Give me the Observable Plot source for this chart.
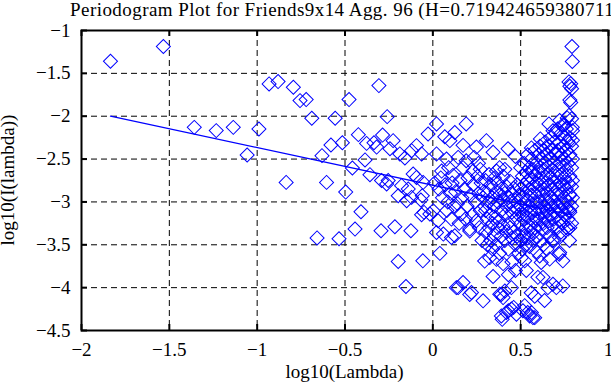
<!DOCTYPE html>
<html><head><meta charset="utf-8">
<script src="https://cdn.jsdelivr.net/npm/d3@7"></script>
<script src="https://cdn.jsdelivr.net/npm/@observablehq/plot@0.6"></script>
<style>
html,body{margin:0;padding:0;background:#fff;overflow:hidden}
#chart{width:611px;height:385px;position:relative;overflow:hidden}
</style></head><body><div id="chart"></div>
<script>
const titleText = "Periodogram Plot for Friends9x14 Agg. 96 (H=0.719424659380711)";
const xLabel = "log10(Lambda)";
const yLabel = "log10(I(lambda))";
const xTicks = [-2, -1.5, -1, -0.5, 0, 0.5, 1];
const yTicks = [-4.5, -4, -3.5, -3, -2.5, -2, -1.5, -1];
// regression line (slope = 1 - 2H)
const fitLine = [[-1.835, -2.0], [0.79, -3.152]];
// periodogram points [log10(lambda), log10(I(lambda))]
const lowFreq = [
  [-1.835,-1.359],[-1.534,-1.187],[-1.358,-2.13],[-1.233,-2.168],[-1.136,-2.13],[-1.057,-2.452],
  [-0.990,-2.149],[-0.932,-1.623],[-0.881,-1.596],[-0.835,-2.772],[-0.794,-1.662],[-0.756,-1.818],
  [-0.721,-1.806],[-0.689,-2.024],[-0.659,-3.42],[-0.631,-2.46],[-0.605,-2.772],[-0.580,-2.336],
  [-0.556,-2.024],[-0.534,-3.43]
];
const midFreq = [
  [-0.515,-2.31],[-0.496,-2.885],[-0.477,-1.806],[-0.458,-2.604],[-0.443,-3.317],[-0.424,-2.215],
  [-0.409,-3.114],[-0.386,-2.51],[-0.377,-2.317],[-0.358,-2.682],[-0.335,-2.31],[-0.32,-2.36],
  [-0.307,-1.643],[-0.295,-3.336],[-0.292,-2.75],[-0.286,-2.22],[-0.263,-2.79],[-0.260,-2.005],
  [-0.254,-2.75],[-0.244,-2.38],[-0.226,-2.285],[-0.216,-3.29],[-0.197,-2.928],[-0.197,-3.695],
  [-0.188,-2.44],[-0.178,-2.81],[-0.159,-2.487],[-0.153,-3.987],[-0.149,-2.986],[-0.14,-2.85],
  [-0.125,-3.336],[-0.121,-2.402],[-0.121,-2.947],[-0.112,-2.674],[-0.093,-2.343],[-0.093,-2.714],
  [-0.068,-2.978],[-0.064,-2.44],[-0.064,-3.15],[-0.060,-2.928],[-0.057,-3.687],[-0.055,-2.772],
  [-0.050,-3.122],[-0.027,-2.207],[-0.017,-3.141],[0.002,-3.103]
];
const highFreq1 = [
  [0.021,-2.09],[0.068,-2.24],[0.125,-2.19],[0.097,-2.285],[0.19,-2.09],[0.172,-2.34],[0.248,-2.36],
  [0.021,-2.44],[0.078,-2.5],[0.144,-2.48],[0.19,-2.52],[0.05,-2.64],[0.115,-2.69],[0.172,-2.6],
  [0.229,-2.64],[0.03,-3.22],[0.06,-3.375],[0.106,-3.415],[0.21,-3.34],[0.021,-3.356],[0.125,-3.395],
  [0.04,-3.6],[0.134,-4.0],[0.172,-3.94],[0.22,-4.057],[0.286,-4.154],[0.144,-4.0],[0.21,-4.08],
  [0.106,-3.2],[0.163,-3.14],[0.21,-3.317],[0.248,-3.22],[0.295,-3.69],[0.305,-2.285],[0.286,-2.95],
  [0.01,-2.78],[0.035,-2.85],[0.055,-2.95],[0.07,-2.8],[0.085,-3.0],[0.1,-2.9],[0.11,-2.78],
  [0.13,-2.88],[0.14,-3.02],[0.155,-2.75],[0.165,-2.95],[0.18,-2.85],[0.195,-3.05],[0.2,-2.72],
  [0.215,-2.92],[0.23,-2.8],[0.24,-3.0],[0.255,-2.7],[0.26,-2.9],[0.27,-3.1],[0.275,-2.78],
  [0.29,-2.88],[0.295,-3.05],[0.08,-3.1],[0.12,-3.05],[0.15,-3.25],[0.185,-3.2],[0.225,-3.15],
  [0.265,-3.3],[0.28,-3.45],[0.09,-2.6],[0.045,-2.72],[0.26,-2.55],[0.235,-2.48],[0.27,-2.62]
];
const highFreq2 = [
  [0.343,-2.42],[0.428,-2.38],[0.38,-2.6],[0.41,-2.62],[0.362,-2.64],[0.324,-3.65],[0.362,-3.67],
  [0.343,-3.87],[0.381,-4.076],[0.4,-4.116],[0.39,-4.08],[0.41,-4.04],[0.447,-4.0],[0.39,-4.33],
  [0.419,-4.29],[0.447,-4.25],[0.476,-4.31],[0.395,-4.37],[0.43,-4.27],[0.46,-4.23],[0.47,-2.47],
  [0.30,-2.75],[0.30,-3.1],[0.30,-3.35],[0.31,-2.9],[0.31,-3.2],[0.31,-3.5],[0.32,-2.68],[0.32,-3.0],
  [0.32,-3.3],[0.33,-2.8],[0.33,-3.15],[0.33,-3.45],[0.34,-2.95],[0.34,-3.25],[0.34,-3.55],
  [0.35,-2.72],[0.35,-3.05],[0.35,-3.38],[0.36,-2.88],[0.36,-3.18],[0.36,-3.5],[0.37,-2.78],
  [0.37,-3.0],[0.37,-3.3],[0.38,-2.92],[0.38,-3.22],[0.38,-3.6],[0.39,-2.85],[0.39,-3.1],[0.39,-3.4],
  [0.40,-2.7],[0.40,-2.98],[0.40,-3.28],[0.40,-3.72],[0.41,-2.9],[0.41,-3.15],[0.41,-3.45],
  [0.42,-2.82],[0.42,-3.05],[0.42,-3.35],[0.43,-2.95],[0.43,-3.25],[0.43,-3.55],[0.43,-3.85],
  [0.44,-2.76],[0.44,-3.0],[0.44,-3.3],[0.45,-2.9],[0.45,-3.12],[0.45,-3.42],[0.45,-3.7],
  [0.46,-2.84],[0.46,-3.05],[0.46,-3.35],[0.47,-2.98],[0.47,-3.2],[0.47,-3.5],[0.47,-3.8],
  [0.48,-2.8],[0.48,-3.08],[0.48,-3.4],[0.49,-2.92],[0.49,-3.15],[0.49,-3.6]
];
const highFreq3 = [
  [0.561,-2.37],[0.612,-2.265],[0.661,-2.09],[0.684,-2.17],[0.565,-2.65],[0.523,-3.687],[0.504,-3.65],
  [0.608,-3.63],[0.617,-3.707],[0.665,-3.667],[0.532,-3.80],[0.598,-3.88],[0.684,-3.96],[0.655,-4.0],
  [0.56,-4.06],[0.58,-4.1],[0.636,-4.15],[0.523,-4.21],[0.54,-4.29],[0.57,-4.35],[0.513,-4.27],
  [0.551,-4.33],[0.58,-4.35],[0.561,-4.29],[0.627,-3.88],
  [0.50,-2.6],[0.50,-2.85],[0.50,-3.05],[0.50,-3.25],[0.50,-3.45],
  [0.51,-2.7],[0.51,-2.95],[0.51,-3.15],[0.51,-3.35],[0.51,-3.55],
  [0.52,-2.55],[0.52,-2.8],[0.52,-3.0],[0.52,-3.2],[0.52,-3.4],
  [0.53,-2.65],[0.53,-2.9],[0.53,-3.1],[0.53,-3.3],[0.53,-3.5],
  [0.54,-2.45],[0.54,-2.75],[0.54,-2.98],[0.54,-3.18],[0.54,-3.42],
  [0.55,-2.6],[0.55,-2.85],[0.55,-3.05],[0.55,-3.28],[0.55,-3.52],
  [0.56,-2.5],[0.56,-2.72],[0.56,-2.92],[0.56,-3.12],[0.56,-3.35],
  [0.57,-2.62],[0.57,-2.82],[0.57,-3.02],[0.57,-3.22],[0.57,-3.45],
  [0.58,-2.4],[0.58,-2.68],[0.58,-2.9],[0.58,-3.1],[0.58,-3.3],
  [0.59,-2.55],[0.59,-2.78],[0.59,-3.0],[0.59,-3.2],[0.59,-3.4],[0.59,-3.58],
  [0.60,-2.45],[0.60,-2.65],[0.60,-2.88],[0.60,-3.08],[0.60,-3.28],
  [0.61,-2.35],[0.61,-2.6],[0.61,-2.8],[0.61,-3.0],[0.61,-3.2],[0.61,-3.45],
  [0.62,-2.5],[0.62,-2.72],[0.62,-2.92],[0.62,-3.12],[0.62,-3.32],
  [0.63,-2.4],[0.63,-2.62],[0.63,-2.85],[0.63,-3.05],[0.63,-3.25],[0.63,-3.5],
  [0.64,-2.3],[0.64,-2.55],[0.64,-2.78],[0.64,-2.98],[0.64,-3.18],
  [0.65,-2.45],[0.65,-2.68],[0.65,-2.9],[0.65,-3.1],[0.65,-3.3],[0.65,-3.55],
  [0.66,-2.35],[0.66,-2.58],[0.66,-2.8],[0.66,-3.0],[0.66,-3.22],
  [0.67,-2.25],[0.67,-2.5],[0.67,-2.72],[0.67,-2.95],[0.67,-3.15],[0.67,-3.4],
  [0.68,-2.4],[0.68,-2.62],[0.68,-2.85],[0.68,-3.05],[0.68,-3.28],
  [0.69,-2.3],[0.69,-2.55],[0.69,-2.78],[0.69,-3.0],[0.69,-3.2],[0.69,-3.45],
  [0.70,-2.2],[0.70,-2.45],[0.70,-2.7],[0.70,-2.92],[0.70,-3.12]
];
const highFreq4 = [
  [0.792,-1.187],[0.794,-1.362],[0.775,-1.6],[0.785,-1.62],[0.78,-1.65],[0.79,-1.68],[0.78,-1.81],
  [0.785,-1.84],[0.775,-1.99],[0.765,-2.02],[0.79,-2.03],[0.794,-2.13],[0.795,-2.17],[0.722,-2.05],
  [0.75,-2.1],[0.778,-2.91],[0.778,-3.10],[0.77,-3.317],[0.72,-3.415],[0.68,-3.45],[0.72,-3.61],
  [0.74,-3.687],[0.74,-3.98],[0.703,-4.0],[0.722,-3.59],[0.778,-3.45],
  [0.71,-2.15],[0.71,-2.4],[0.71,-2.62],[0.71,-2.85],[0.71,-3.05],[0.71,-3.3],
  [0.72,-2.3],[0.72,-2.55],[0.72,-2.78],[0.72,-3.0],[0.72,-3.22],
  [0.73,-2.2],[0.73,-2.45],[0.73,-2.68],[0.73,-2.9],[0.73,-3.1],[0.73,-3.35],
  [0.74,-2.1],[0.74,-2.35],[0.74,-2.58],[0.74,-2.8],[0.74,-3.02],[0.74,-3.25],
  [0.75,-2.25],[0.75,-2.5],[0.75,-2.72],[0.75,-2.95],[0.75,-3.15],
  [0.76,-2.15],[0.76,-2.4],[0.76,-2.62],[0.76,-2.85],[0.76,-3.08],[0.76,-3.3],
  [0.77,-2.3],[0.77,-2.55],[0.77,-2.78],[0.77,-3.0],[0.77,-3.2],
  [0.78,-2.25],[0.78,-2.45],[0.78,-2.7],[0.78,-2.92],[0.78,-3.12],[0.78,-3.3],
  [0.79,-2.35],[0.79,-2.6],[0.79,-2.82],[0.79,-3.05],[0.79,-3.25],
  [0.795,-2.28],[0.795,-2.5],[0.795,-2.75],[0.795,-2.95]
];
const points = [...lowFreq, ...midFreq, ...highFreq1, ...highFreq2, ...highFreq3, ...highFreq4];

const fmt = d => (d < 0 ? "\u2212" : "") + Math.abs(d);
const W = 611, H = 385, mL = 81, mR = 3, mT = 30, mB = 55;
const plotW = W - mL - mR, plotH = H - mT - mB, tick = 6;
const blue = "#0000ff";

const svg = Plot.plot({
  width: W, height: H,
  marginLeft: mL, marginRight: mR, marginTop: mT, marginBottom: mB,
  style: {fontFamily: "'Liberation Serif', 'Times New Roman', serif", fontSize: "19px", background: "white", color: "black", overflow: "visible"},
  x: {domain: [-2, 1]},
  y: {domain: [-4.5, -1]},
  marks: [
    Plot.ruleX(xTicks.slice(1, -1), {x: d => d, stroke: "black", strokeWidth: 1, strokeDasharray: "6,4"}),
    Plot.ruleY(yTicks.slice(1, -1), {y: d => d, stroke: "black", strokeWidth: 1, strokeDasharray: "6,4"}),
    Plot.dot(points, {x: d => d[0], y: d => d[1], symbol: "square", rotate: 45, r: 5.6, stroke: blue, strokeWidth: 1, fill: "none"}),
    Plot.line(fitLine, {x: d => d[0], y: d => d[1], stroke: blue, strokeWidth: 1.3}),
    Plot.ruleX(xTicks, {x: d => d, insetTop: plotH - tick, stroke: "black", strokeWidth: 2}),
    Plot.ruleX(xTicks, {x: d => d, insetBottom: plotH - tick, stroke: "black", strokeWidth: 2}),
    Plot.ruleY(yTicks, {y: d => d, insetRight: plotW - tick, stroke: "black", strokeWidth: 2}),
    Plot.ruleY(yTicks, {y: d => d, insetLeft: plotW - tick, stroke: "black", strokeWidth: 2}),
    Plot.frame({stroke: "black", strokeWidth: 2}),
    Plot.axisX({ticks: xTicks, tickFormat: fmt, tickSize: 0, tickPadding: 12, label: null, fontSize: 19}),
    Plot.axisY({ticks: yTicks, tickFormat: fmt, tickSize: 0, tickPadding: 11, label: null, fontSize: 19})
  ]
});

const s = d3.select(svg);
const font = "'Liberation Serif', 'Times New Roman', serif";
s.append("text").attr("x", 70).attr("y", 16).attr("text-anchor", "start")
  .attr("font-family", font).attr("font-size", 19).attr("letter-spacing", "0.45px")
  .attr("fill", "black").text(titleText);
s.append("text").attr("x", mL + plotW / 2).attr("y", 378).attr("text-anchor", "middle")
  .attr("font-family", font).attr("font-size", 19).attr("fill", "black").text(xLabel);
s.append("text").attr("transform", `translate(14,${mT + plotH / 2}) rotate(-90)`).attr("text-anchor", "middle")
  .attr("font-family", font).attr("font-size", 19).attr("fill", "black").text(yLabel);

document.getElementById("chart").appendChild(svg);
</script></body></html>
